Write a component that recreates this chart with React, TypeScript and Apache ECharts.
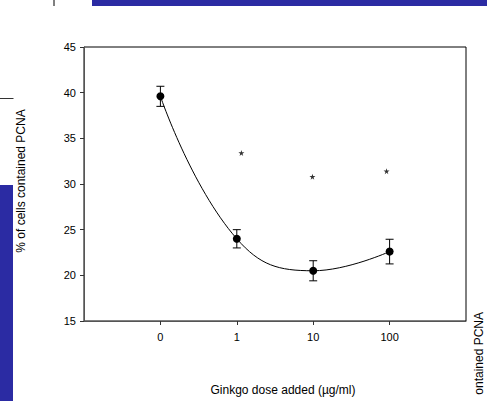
import React, { useEffect, useRef } from "react";
import * as echarts from "echarts";

const doseLabels = ["0", "1", "10", "100"];
const dosePos = [0, 1, 2, 3];
const meanPCNA = [39.6, 24.0, 20.5, 22.6];
const errPCNA = [1.1, 1.0, 1.1, 1.35];
const starX = [1.06, 1.99, 2.96];
const starY = [33.4, 30.8, 31.4];
const yTicks = [15, 20, 25, 30, 35, 40, 45];

const FONT = "'Liberation Sans', Arial, sans-serif";
const STAR =
  "path://M50,0 L61,35 L98,35 L68,57 L79,91 L50,70 L21,91 L32,57 L2,35 L39,35 Z";

export default function App() {
  const ref = useRef<HTMLDivElement>(null);
  useEffect(() => {
    document.body.style.margin = "0";
    const chart = echarts.init(ref.current!, null, { renderer: "svg" });
    const lineData = dosePos.map((x, i) => [x, meanPCNA[i]]);
    const errData = dosePos.map((x, i) => [x, meanPCNA[i] - errPCNA[i], meanPCNA[i] + errPCNA[i]]);
    const starData = starX.map((x, i) => [x, starY[i]]);
    chart.setOption({
      animation: false,
      backgroundColor: "#fff",
      grid: {
        left: 84,
        top: 47,
        width: 382,
        height: 274,
        show: true,
        borderColor: "#000",
        borderWidth: 1,
      },
      xAxis: {
        type: "value",
        min: -1,
        max: 4,
        interval: 1,
        splitLine: { show: false },
        axisLine: { show: true, onZero: false, lineStyle: { color: "#555", width: 1 } },
        axisTick: {
          show: true,
          inside: false,
          length: 4,
          customValues: dosePos,
          lineStyle: { color: "#333" },
        },
        axisLabel: {
          customValues: dosePos,
          margin: 10,
          color: "#000",
          fontSize: 11,
          fontFamily: FONT,
          formatter: (v: number) => {
            const i = dosePos.indexOf(Math.round(v));
            return i >= 0 && Math.abs(v - Math.round(v)) < 1e-6 ? doseLabels[i] : "";
          },
        },
      },
      yAxis: {
        type: "value",
        min: yTicks[0],
        max: yTicks[yTicks.length - 1],
        interval: 5,
        splitLine: { show: false },
        axisLine: { show: true, onZero: false, lineStyle: { color: "#555", width: 1 } },
        axisTick: { show: true, inside: false, length: 4, lineStyle: { color: "#333" } },
        axisLabel: {
          margin: 8,
          color: "#000",
          fontSize: 11,
          fontFamily: FONT,
        },
      },
      series: [
        {
          type: "custom",
          z: 2,
          data: errData,
          renderItem: (params: any, api: any) => {
            const x = api.value(0);
            const pLo = api.coord([x, api.value(1)]);
            const pHi = api.coord([x, api.value(2)]);
            const hw = 4;
            const st = { stroke: "#000", lineWidth: 1 };
            return {
              type: "group",
              children: [
                { type: "line", shape: { x1: pHi[0], y1: pHi[1], x2: pLo[0], y2: pLo[1] }, style: st },
                { type: "line", shape: { x1: pHi[0] - hw, y1: pHi[1], x2: pHi[0] + hw, y2: pHi[1] }, style: st },
                { type: "line", shape: { x1: pLo[0] - hw, y1: pLo[1], x2: pLo[0] + hw, y2: pLo[1] }, style: st },
              ],
            };
          },
        },
        {
          type: "line",
          z: 3,
          data: lineData,
          smooth: 0.45,
          symbol: "circle",
          symbolSize: 8,
          itemStyle: { color: "#000" },
          lineStyle: { color: "#000", width: 1 },
        },
        {
          type: "scatter",
          z: 3,
          data: starData,
          symbol: STAR,
          symbolSize: 6,
          itemStyle: { color: "#000" },
        },
      ],
      graphic: [
        { type: "rect", shape: { x: 92, y: 0, width: 395, height: 6 }, style: { fill: "#2b2ba3" } },
        { type: "rect", shape: { x: 0, y: 185, width: 13, height: 216 }, style: { fill: "#2b2ba3" } },
        { type: "line", shape: { x1: 54, y1: 0, x2: 54, y2: 6 }, style: { stroke: "#000", lineWidth: 1 } },
        { type: "line", shape: { x1: 0, y1: 98.5, x2: 13.5, y2: 98.5 }, style: { stroke: "#333", lineWidth: 1 } },
        {
          type: "text",
          x: 21,
          y: 181,
          rotation: Math.PI / 2,
          style: {
            text: "% of cells contained PCNA",
            fontSize: 12,
            fontFamily: FONT,
            fill: "#000",
            align: "center",
            verticalAlign: "middle",
          },
        },
        {
          type: "text",
          x: 479,
          y: 312,
          rotation: Math.PI / 2,
          style: {
            text: "ontained PCNA",
            fontSize: 12,
            fontFamily: FONT,
            fill: "#000",
            align: "right",
            verticalAlign: "middle",
          },
        },
        {
          type: "text",
          x: 283,
          y: 390,
          style: {
            text: "Ginkgo dose added (µg/ml)",
            fontSize: 12,
            fontFamily: FONT,
            fill: "#000",
            align: "center",
            verticalAlign: "middle",
          },
        },
      ],
    });
    return () => chart.dispose();
  }, []);
  return <div ref={ref} style={{ width: 487, height: 401 }} />;
}
